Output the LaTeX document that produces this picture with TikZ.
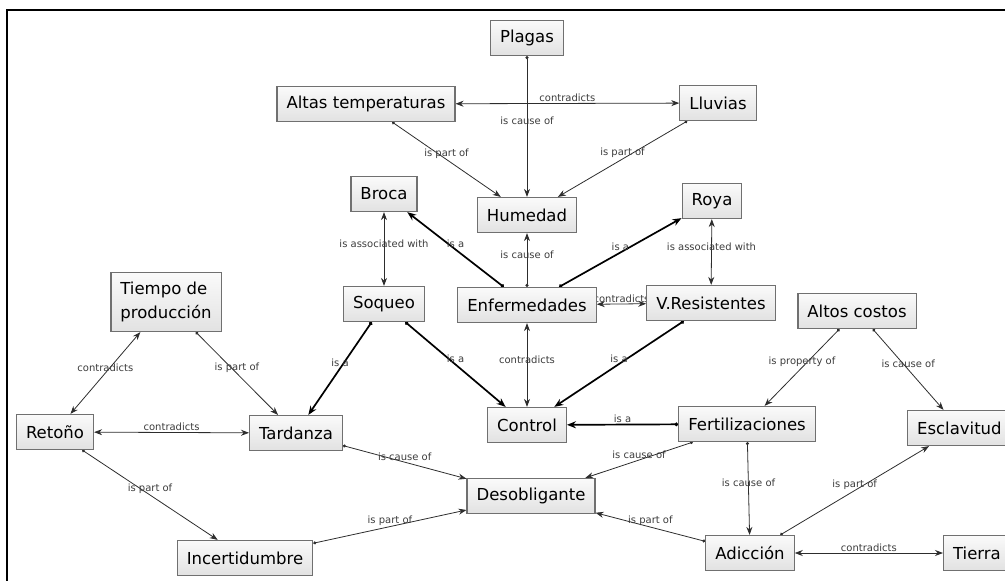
\documentclass[tikz,border=0pt]{standalone}
\usepackage{fontspec}
\setmainfont{DejaVu Sans}
\usepackage{xcolor}
\definecolor{BoxTop}{RGB}{250,250,250}
\definecolor{BoxBottom}{RGB}{226,226,226}
\definecolor{BoxEdge}{RGB}{112,112,112}
\definecolor{LinkGray}{RGB}{45,45,45}
\definecolor{LabelGray}{RGB}{60,60,60}
\usepackage{tikz}
\usetikzlibrary{arrows.meta, backgrounds}

\tikzset{
	concept/.style={draw=BoxEdge, line width=1.2pt, top color=BoxTop, bottom color=BoxBottom, minimum height=35pt, inner xsep=9.5pt, font=\fontsize{16.5}{24}\selectfont, text=black},
	link/.style={LinkGray, line width=0.8pt, {Circle[length=3pt]}-{Stealth[length=8pt, width=6pt]}},
	isa/.style={black, line width=1.7pt, {Circle[length=3.5pt]}-{Stealth[length=9pt, width=7pt]}},
	twoway/.style={LinkGray, line width=0.8pt, {Stealth[length=8pt, width=6pt]}-{Stealth[length=8pt, width=6pt]}},
	lbl/.style={midway, above, inner sep=1pt, text=LabelGray, font=\fontsize{10}{12}\selectfont}
}

\begin{document}
\begin{tikzpicture}[x=1pt, y=-1pt]
			\useasboundingbox (0,0) rectangle (1005,581);
			\clip (0,0) rectangle (1005,581);
			\draw [line width=1.8pt] (7,581) -- (7,10) -- (1005,10);

			\node [concept] (plagas) at (527,38) {Plagas};
			\node [concept] (altas) at (366,104) {Altas temperaturas};
			\node [concept] (lluvias) at (718,103) {Lluvias};
			\node [concept] (broca) at (384,194) {Broca};
			\node [concept] (humedad) at (527,215) {Humedad};
			\node [concept] (roya) at (712,201) {Roya};
			\node [concept] (soqueo) at (384,304) {Soqueo};
			\node [concept] (enfermedades) at (527,305) {Enfermedades};
			\node [concept] (vresistentes) at (711,303) {V.Resistentes};
			\node [concept] (altoscostos) at (857,311) {Altos costos};
			\node [concept, align=left, minimum height=59pt] (tiempo) at (166,302) {Tiempo de\\producción};
			\node [concept] (retono) at (55,432) {Retoño};
			\node [concept] (tardanza) at (296,433) {Tardanza};
			\node [concept] (control) at (527,425) {Control};
			\node [concept] (fertilizaciones) at (747,424) {Fertilizaciones};
			\node [concept, anchor=west] (esclavitud) at (907,428) {Esclavitud};
			\node [concept] (desobligante) at (531,496) {Desobligante};
			\node [concept] (incertidumbre) at (245,558) {Incertidumbre};
			\node [concept] (adiccion) at (750,553) {Adicción};
			\node [concept, anchor=west] (tierra) at (943,553) {Tierra};

			\begin{pgfonlayer}{background}
			\draw [link] (plagas) -- node [lbl] {is cause of} (humedad);
			\draw [twoway] (altas) -- node [lbl] {contradicts} (lluvias);
			\draw [link] (altas) -- node [lbl] {is part of} (humedad);
			\draw [link] (lluvias) -- node [lbl] {is part of} (humedad);
			\draw [twoway] (broca) -- node [lbl] {is associated with} (soqueo);
			\draw [isa] (enfermedades) -- node [lbl] {is a} (broca);
			\draw [link] (enfermedades) -- node [lbl] {is cause of} (humedad);
			\draw [isa] (enfermedades) -- node [lbl] {is a} (roya);
			\draw [twoway] (roya) -- node [lbl] {is associated with} (vresistentes);
			\draw [twoway] (enfermedades) -- node [lbl] {contradicts} (vresistentes);
			\draw [twoway] (enfermedades) -- node [lbl] {contradicts} (control);
			\draw [isa] (soqueo) -- node [lbl] {is a} (tardanza);
			\draw [isa] (soqueo) -- node [lbl] {is a} (control);
			\draw [isa] (vresistentes) -- node [lbl] {is a} (control);
			\draw [isa] (fertilizaciones) -- node [lbl] {is a} (control);
			\draw [twoway] (tiempo) -- node [lbl] {contradicts} (retono);
			\draw [link] (tiempo) -- node [lbl] {is part of} (tardanza);
			\draw [twoway] (retono) -- node [lbl] {contradicts} (tardanza);
			\draw [link] (retono) -- node [lbl] {is part of} (incertidumbre);
			\draw [link] (tardanza) -- node [lbl] {is cause of} (desobligante);
			\draw [link] (incertidumbre) -- node [lbl] {is part of} (desobligante);
			\draw [link] (fertilizaciones) -- node [lbl] {is cause of} (desobligante);
			\draw [link] (fertilizaciones) -- node [lbl] {is cause of} (adiccion);
			\draw [link] (adiccion) -- node [lbl] {is part of} (desobligante);
			\draw [link] (adiccion) -- node [lbl] {is part of} (esclavitud);
			\draw [link] (altoscostos) -- node [lbl] {is property of} (fertilizaciones);
			\draw [link] (altoscostos) -- node [lbl] {is cause of} (esclavitud);
			\draw [twoway] (adiccion) -- node [lbl] {contradicts} (tierra);
			\end{pgfonlayer}
\end{tikzpicture}
\end{document}
